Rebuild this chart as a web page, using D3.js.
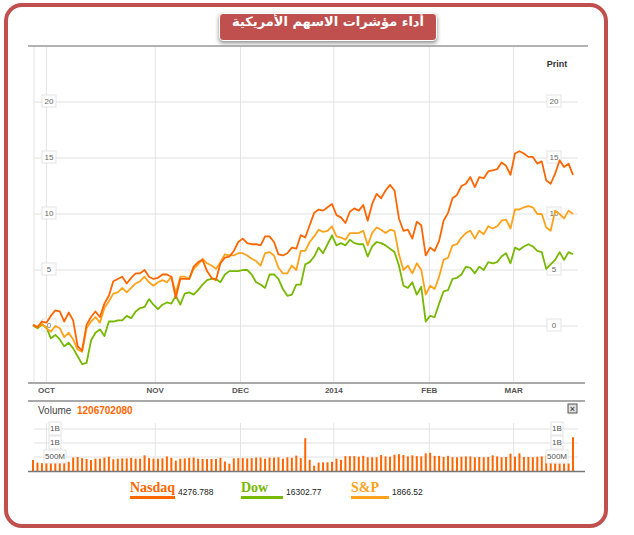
<!DOCTYPE html>
<html><head><meta charset="utf-8">
<script src="https://cdn.jsdelivr.net/npm/d3@7"></script>
<style>
body{margin:0;background:#fff;font-family:Arial,"Liberation Sans",sans-serif}
#wrap{position:relative;width:634px;height:535px}
#title{position:absolute;left:328px;top:13px;transform:translateX(-50%);height:26px;line-height:25px;padding:0 12px;background:#c0504d;color:#fff;
  border:1.5px solid #fff;border-radius:4px;box-shadow:0 2px 4px #888;text-align:center;direction:rtl;
  font:bold 13px "DejaVu Sans",sans-serif;white-space:nowrap}
</style>
</head><body>
<div id="wrap"><svg id="c" width="634" height="535"></svg><div id="title"></div></div>
<script>
// percent change since start, one value per trading day
var nasdaq = [0.1,-0.1,0.4,0.3,0.9,1.4,1.3,0.4,1.2,0.5,-1.8,-2.2,0.1,0.8,1.3,0.8,2.0,2.7,4.0,4.2,4.4,3.8,4.3,4.7,4.7,5.0,4.4,4.2,4.3,4.6,4.6,4.4,2.5,4.2,4.2,4.2,5.3,5.7,5.9,4.9,4.3,4.1,5.6,6.1,6.2,6.7,7.5,7.8,7.4,7.3,7.3,7.2,8.0,8.0,7.5,6.4,6.3,6.5,7.0,6.9,8.1,7.9,9.0,10.1,10.4,
  10.3,10.6,10.9,9.9,9.7,9.2,10.2,10.5,10.3,10.8,9.4,10.9,11.8,11.4,12.1,12.6,12.1,9.6,8.5,8.6,7.8,9.3,9.0,6.3,7.0,6.7,7.6,9.4,10.1,11.4,11.7,12.5,12.7,13.3,12.4,13.3,13.2,13.8,13.9,14.0,14.6,14.3,13.5,15.4,15.6,15.4,15.1,15.1,14.5,14.7,13.0,12.7,13.6,14.8,14.2,14.5,13.5];
var dow = [0.05,-0.2,0.1,-0.1,-1.1,-0.8,-1.2,-1.8,-1.5,-2.0,-2.7,-3.4,-3.3,-1.3,-0.6,-0.3,-0.9,0.4,0.4,0.5,0.5,0.9,0.7,1.3,1.6,1.7,2.4,1.9,1.5,1.9,2.1,2.0,2.7,1.9,2.9,3.0,2.8,3.2,3.7,4.1,4.2,4.2,3.9,4.6,4.9,4.9,4.9,5.0,5.0,4.6,3.9,3.7,3.4,4.6,4.6,4.2,3.3,2.7,2.8,3.7,3.7,5.5,5.7,6.2,7.0,
  6.5,7.3,8.1,7.2,7.4,7.2,7.7,7.4,7.3,7.3,6.2,7.1,7.5,7.4,7.2,6.9,6.6,5.4,3.6,3.4,3.9,2.8,3.5,0.4,0.9,0.8,2.0,3.1,3.2,4.2,4.3,4.6,5.3,5.2,4.7,5.3,5.0,5.7,5.6,5.7,6.2,6.5,5.6,7.0,6.8,7.1,7.3,7.1,6.7,6.6,5.1,5.5,5.9,6.6,5.9,6.6,6.4];
var sp = [0.1,-0.1,0.2,-0.2,-0.5,0.0,-0.2,-1.0,-0.6,-1.2,-2.1,-2.3,-0.2,0.4,0.8,0.3,1.6,2.2,2.9,3.0,3.4,3.0,3.4,3.8,4.0,4.4,3.9,3.6,3.9,4.1,3.9,4.4,2.9,4.4,4.4,4.2,5.1,5.5,6.0,5.6,5.4,5.1,5.7,6.4,6.3,6.3,6.5,6.5,6.3,6.0,5.8,5.4,6.5,6.6,6.3,5.2,4.7,4.7,5.4,5.0,6.7,6.7,7.5,8.0,8.6,
  8.4,8.5,8.9,8.0,7.9,7.7,8.3,8.3,8.3,8.5,7.2,8.3,8.8,8.6,8.3,8.6,8.5,6.4,5.0,5.4,4.7,5.6,5.0,2.8,3.6,3.3,4.4,5.9,6.1,7.2,7.3,7.9,8.3,8.5,7.8,8.5,8.2,8.9,8.7,8.9,9.4,9.5,8.7,10.4,10.4,10.6,10.7,10.6,10.0,10.0,8.8,8.5,10.3,10.0,9.6,10.3,10.0];
// volume in millions
var volume = [390,300,280,280,280,280,290,320,330,480,500,460,430,390,440,440,480,510,420,440,450,450,470,440,440,560,460,440,440,450,520,470,370,440,450,470,480,440,430,430,430,430,470,340,260,450,460,460,450,460,480,480,440,480,480,490,440,490,470,550,460,1170,400,190,300,310,310,330,440,400,530,530,530,510,540,490,490,490,570,520,510,580,600,570,520,560,530,520,630,650,540,540,500,540,490,490,510,520,520,490,500,490,500,560,520,490,500,620,510,630,500,500,490,510,520,540,560,270,270,270,270,1207];
var months = ["OCT","NOV","DEC","2014","FEB","MAR"];
var monthIdx = [3,27.4,46.5,67.4,88.8,107.7];
var yTicks = [0,5,10,15,20];
var volTicks = [500,1000,1500];
var volTickLabels = ["500M","1B","1B"];
var legendNames = ["Nasdaq","Dow","S&P"];
var legendValues = ["4276.788","16302.77","1866.52"];
var colors = ["#ff6600","#77b800","#ffa21a"];
var title = "أداء مؤشرات الاسهم الأمريكية";

d3.select("#title").text(title);
var svg = d3.select("#c");
var red = "#c0504d";
svg.append("rect").attr("x",6).attr("y",5).attr("width",600).attr("height",521)
  .attr("rx",16).attr("fill","#fff").attr("stroke",red).attr("stroke-width",4);

svg.append("line").attr("x1",28).attr("x2",588).attr("y1",46).attr("y2",46).attr("stroke","#999").attr("stroke-width",1.5);
svg.append("text").attr("x",557).attr("y",67).attr("text-anchor","middle").attr("font-size",9).attr("font-weight","bold").attr("fill","#333").text("Print");

var x = d3.scaleLinear().domain([0,121]).range([33,573]);
var y = d3.scaleLinear().domain([0,20]).range([326,102]);
var yv = d3.scaleLinear().domain([0,500]).range([471,457]);

var g = svg.append("g");
// grid
g.selectAll(".vg").data(monthIdx).enter().append("line")
  .attr("x1",d=>x(d)).attr("x2",d=>x(d)).attr("y1",47).attr("y2",382).attr("stroke","#e4e4e4");
g.append("line").attr("x1",34).attr("x2",34).attr("y1",47).attr("y2",382).attr("stroke","#e4e4e4");
g.selectAll(".hg").data(yTicks).enter().append("line")
  .attr("x1",34).attr("x2",578).attr("y1",d=>y(d)).attr("y2",d=>y(d)).attr("stroke","#e2e2e2").attr("stroke-width",1.2);
[49,554].forEach(function(lx){
  var lab = g.selectAll(null).data(yTicks).enter().append("g").attr("transform",d=>"translate("+lx+","+y(d)+")");
  lab.append("rect").attr("x",-7).attr("y",-7).attr("width",14).attr("height",12).attr("fill","#fff").attr("stroke","#e4e4e4");
  lab.append("text").attr("text-anchor","middle").attr("y",2).attr("font-size",8).attr("fill","#666").text(d=>d);
});

var line = d3.line().x((d,i)=>x(i)).y(d=>y(d));
[dow,sp,nasdaq].forEach(function(s,k){
  g.append("path").datum(s).attr("d",line).attr("fill","none")
    .attr("stroke",[colors[1],colors[2],colors[0]][k]).attr("stroke-width",1.8).attr("stroke-linejoin","round");
});

svg.append("line").attr("x1",28).attr("x2",585).attr("y1",383).attr("y2",383).attr("stroke","#555").attr("stroke-width",1.2);
svg.selectAll(".ml").data(months).enter().append("text")
  .attr("x",(d,i)=>x(monthIdx[i])).attr("y",393).attr("text-anchor","middle").attr("font-size",8)
  .attr("font-weight","bold").attr("fill","#555").text(d=>d);

// volume panel
svg.append("line").attr("x1",28).attr("x2",585).attr("y1",401).attr("y2",401).attr("stroke","#555").attr("stroke-width",1.2);
svg.append("text").attr("x",38).attr("y",414).attr("font-size",10).attr("fill","#444").text("Volume");
svg.append("text").attr("x",77).attr("y",414).attr("font-size",10).attr("font-weight","bold").attr("fill","#ff6600").text("1206702080");
svg.append("rect").attr("x",568).attr("y",404).attr("width",9).attr("height",9).attr("fill","#ddd").attr("stroke","#555");
svg.append("text").attr("x",572.5).attr("y",412).attr("text-anchor","middle").attr("font-size",9).attr("fill","#222").text("×");

svg.selectAll(".vvg").data(monthIdx).enter().append("line")
  .attr("x1",d=>x(d)).attr("x2",d=>x(d)).attr("y1",423).attr("y2",471).attr("stroke","#e4e4e4");
svg.selectAll(".vhg").data(volTicks).enter().append("line")
  .attr("x1",34).attr("x2",578).attr("y1",d=>yv(d)).attr("y2",d=>yv(d)).attr("stroke","#e2e2e2").attr("stroke-width",1.2);
svg.selectAll(".bar").data(volume).enter().append("rect")
  .attr("x",(d,i)=>x(i)-1).attr("width",2).attr("y",d=>yv(d)).attr("height",d=>471-yv(d)).attr("fill","#ff6600");
[55,557].forEach(function(px){
  var lab = svg.selectAll(null).data(volTicks).enter().append("g").attr("transform",(d,i)=>"translate("+px+","+yv(d)+")");
  lab.append("rect").attr("x",(d,i)=>i==0?-11:-6).attr("y",-7).attr("width",(d,i)=>i==0?22:12).attr("height",13).attr("fill","#fff").attr("stroke","#e4e4e4");
  lab.append("text").attr("text-anchor","middle").attr("y",2).attr("font-size",8).attr("fill","#555").text((d,i)=>volTickLabels[i]);
});
svg.append("line").attr("x1",28).attr("x2",585).attr("y1",471.5).attr("y2",471.5).attr("stroke","#777").attr("stroke-width",1.5);

// legend
var lx = [130,241,351], lw = [45,42,38];
legendNames.forEach(function(n,i){
  svg.append("text").attr("x",lx[i]).attr("y",492).attr("font-family","Liberation Serif, serif").attr("font-size",14)
    .attr("font-weight","bold").attr("fill",colors[i]).text(n);
  svg.append("rect").attr("x",lx[i]).attr("y",496).attr("width",lw[i]).attr("height",3).attr("fill",colors[i]);
  svg.append("text").attr("x",lx[i]+lw[i]+3).attr("y",495).attr("font-size",8.5).attr("fill","#222").text(legendValues[i]);
});
</script>
</body></html>
